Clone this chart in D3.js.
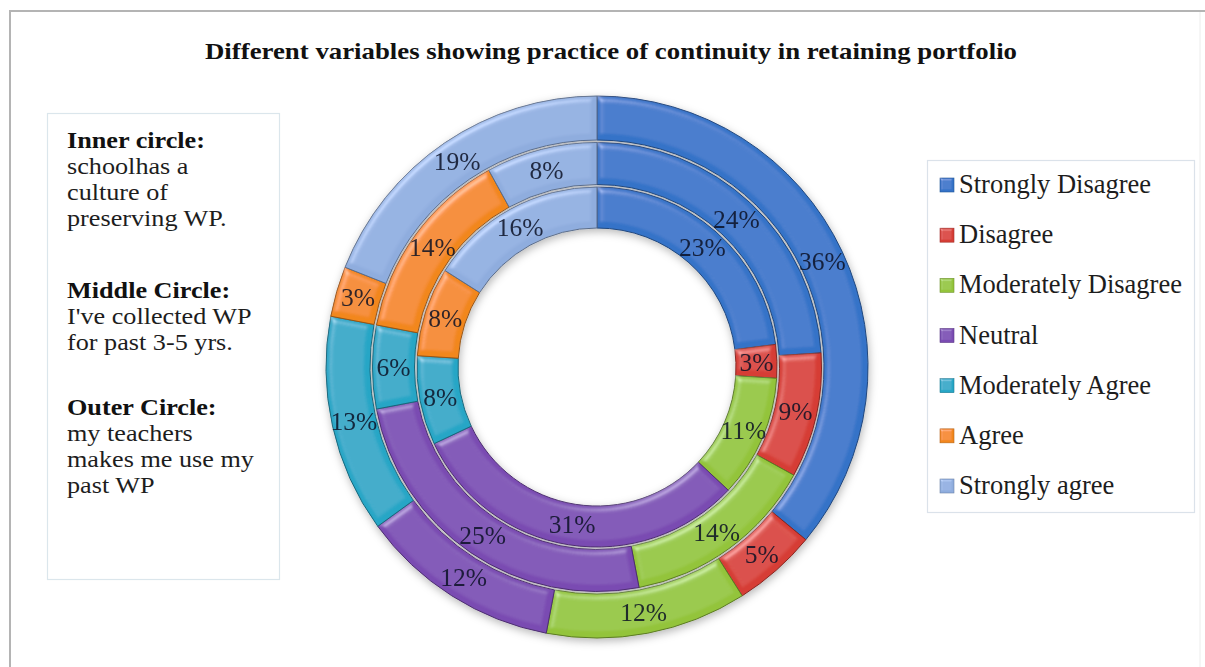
<!DOCTYPE html>
<html>
<head>
<meta charset="utf-8">
<script src="https://cdn.jsdelivr.net/npm/d3@7"></script>
<style>
  html, body { margin: 0; padding: 0; background: #ffffff; }
  svg { display: block; }
</style>
</head>
<body>
<svg id="chart" width="1205" height="667"></svg>
<script>
// Response categories (legend order, also slice order clockwise from 12 o'clock)
const categories = [
  "Strongly Disagree", "Disagree", "Moderately Disagree", "Neutral",
  "Moderately Agree", "Agree", "Strongly agree"
];

// Percentages for each ring
const innerValues  = [23, 3, 11, 31, 8, 8, 16];   // school has a culture of preserving WP
const middleValues = [24, 9, 14, 25, 6, 14, 8];   // collected WP for past 3-5 yrs
const outerValues  = [36, 5, 12, 12, 13, 3, 19];  // teachers make me use my past WP

const sliceColors = ["#3473c8", "#d63d35", "#93c43a", "#7a4bb2", "#27a6c6", "#f2871f", "#8fadde"];

const titleText = "Different variables showing practice of continuity in retaining portfolio";

const noteBlocks = [
  { head: "Inner circle:",  lines: ["schoolhas a", "culture of", "preserving WP."] },
  { head: "Middle Circle:", lines: ["I've collected WP", "for past 3-5 yrs."] },
  { head: "Outer Circle:",  lines: ["my teachers", "makes me use my", "past WP"] }
];

const svg = d3.select("#chart");
const W = 1205, H = 667;
const serif = "'Liberation Serif', 'Times New Roman', serif";

svg.append("rect").attr("width", W).attr("height", H).attr("fill", "#fff");

// ---- filters: soft-round bevel and drop shadow ----
const defs = svg.append("defs");

function addBevel(id, blur, scale, strength) {
  const f = defs.append("filter").attr("id", id)
    .attr("x", "-20%").attr("y", "-20%").attr("width", "140%").attr("height", "140%");
  f.append("feGaussianBlur").attr("in", "SourceAlpha").attr("stdDeviation", blur).attr("result", "blur");
  const s = f.append("feSpecularLighting").attr("in", "blur")
    .attr("surfaceScale", scale).attr("specularConstant", 0.6).attr("specularExponent", 20)
    .attr("lighting-color", "#ffffff").attr("result", "spec");
  s.append("feDistantLight").attr("azimuth", 235).attr("elevation", 40);
  f.append("feComposite").attr("in", "spec").attr("in2", "SourceAlpha")
    .attr("operator", "in").attr("result", "specIn");
  f.append("feComposite").attr("in", "SourceGraphic").attr("in2", "specIn")
    .attr("operator", "arithmetic").attr("k1", 0).attr("k2", 1).attr("k3", strength).attr("k4", 0);
}
addBevel("bevel", 3, 4, 0.45);
addBevel("swBevel", 1.2, 2, 0.5);

const shadow = defs.append("filter").attr("id", "shadow")
  .attr("x", "-10%").attr("y", "-10%").attr("width", "120%").attr("height", "125%");
shadow.append("feDropShadow").attr("dx", 1).attr("dy", 3).attr("stdDeviation", 4)
  .attr("flood-color", "#000").attr("flood-opacity", 0.28);

// ---- chart-area frame ----
svg.append("path")
  .attr("d", `M10,${H} L10,11 L${W},11`)
  .attr("fill", "none").attr("stroke", "#b4b4b4").attr("stroke-width", 2);
svg.append("line").attr("x1", 1200).attr("x2", 1200).attr("y1", 12).attr("y2", H)
  .attr("stroke", "#ececec").attr("stroke-width", 1);

// ---- title ----
svg.append("text")
  .attr("x", 611).attr("y", 59)
  .attr("text-anchor", "middle")
  .attr("font-family", serif).attr("font-weight", "bold").attr("font-size", 23)
  .attr("textLength", 812).attr("lengthAdjust", "spacingAndGlyphs")
  .attr("fill", "#111")
  .text(titleText);

// ---- note box (left) ----
svg.append("rect")
  .attr("x", 47.5).attr("y", 113.5).attr("width", 232).attr("height", 466)
  .attr("fill", "#fff").attr("stroke", "#dbe6ec").attr("stroke-width", 1.2);

const lineH = 26;
const blockTop = [148, 298, 415];
// slightly widened serif, tight leading as in a text box
const notes = svg.append("g")
  .attr("transform", "translate(67,0) scale(1.12,1)")
  .attr("font-family", serif).attr("font-size", 23.4).attr("fill", "#1d1d1d");
noteBlocks.forEach((b, i) => {
  notes.append("text").attr("x", 0).attr("y", blockTop[i])
    .attr("font-weight", "bold").attr("fill", "#111").text(b.head);
  b.lines.forEach((ln, j) => {
    notes.append("text").attr("x", 0).attr("y", blockTop[i] + lineH * (j + 1)).text(ln);
  });
});

// ---- doughnut ----
const cx = 597, cy = 367;
const rings = [
  { values: innerValues,  r0: 139, r1: 180 },
  { values: middleValues, r0: 182.5, r1: 224.5 },
  { values: outerValues,  r0: 227, r1: 271 }
];

const pie = d3.pie().sort(null).value(d => d);
const color = d3.scaleOrdinal().domain(categories).range(sliceColors);

const donut = svg.append("g")
  .attr("transform", `translate(${cx},${cy})`);
const slicesG = donut.append("g").attr("filter", "url(#shadow)");

rings.forEach(ring => {
  const arc = d3.arc().innerRadius(ring.r0).outerRadius(ring.r1);
  slicesG.append("g").selectAll("path")
    .data(pie(ring.values))
    .join("path")
    .attr("d", arc)
    .attr("fill", (d, i) => color(categories[i]))
    .attr("stroke", (d, i) => d3.color(color(categories[i])).darker(1.3))
    .attr("stroke-width", 1)
    .attr("filter", "url(#bevel)");
});

// value labels at the centre of each slice
const labelsG = donut.append("g")
  .attr("font-family", serif).attr("font-size", 25.5)
  .attr("text-anchor", "middle");
rings.forEach(ring => {
  const mid = (ring.r0 + ring.r1) / 2;
  const labelArc = d3.arc().innerRadius(mid).outerRadius(mid);
  labelsG.append("g").selectAll("text")
    .data(pie(ring.values))
    .join("text")
    .attr("transform", d => `translate(${labelArc.centroid(d)})`)
    .attr("dy", "0.35em")
    .attr("fill", "#0b1024").attr("fill-opacity", 0.85)
    .text(d => d.data + "%");
});

// ---- legend (right) ----
svg.append("rect")
  .attr("x", 927.5).attr("y", 160.5).attr("width", 267).attr("height", 352)
  .attr("fill", "#fff").attr("stroke", "#dbe2ea").attr("stroke-width", 1.2);

const legend = svg.append("g")
  .attr("font-family", serif).attr("font-size", 26.5).attr("fill", "#1d1d1d");
const legendY = d3.scalePoint().domain(categories).range([193, 494]);
const items = legend.selectAll("g.item")
  .data(categories)
  .join("g")
  .attr("class", "item")
  .attr("transform", d => `translate(0,${legendY(d)})`);
items.append("rect")
  .attr("x", 940).attr("y", -15).attr("width", 14).attr("height", 14)
  .attr("fill", d => color(d))
  .attr("stroke", d => d3.color(color(d)).darker(0.8)).attr("stroke-width", 0.6)
  .attr("filter", "url(#swBevel)");
items.append("text")
  .attr("x", 959).attr("y", 0)
  .text(d => d);
</script>
</body>
</html>
